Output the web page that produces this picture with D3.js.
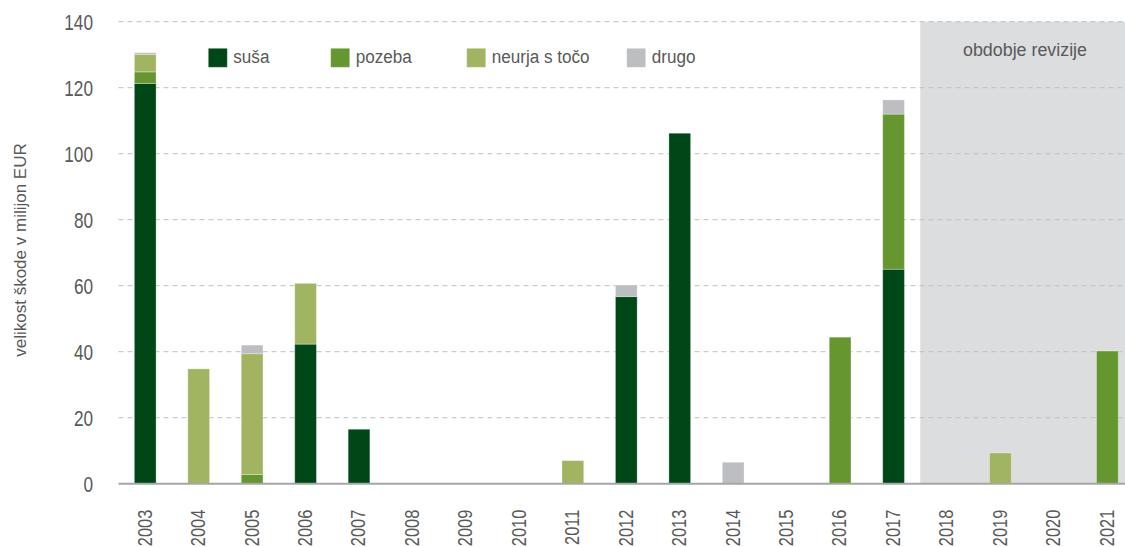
<!DOCTYPE html>
<html>
<head>
<meta charset="utf-8">
<script src="https://cdn.jsdelivr.net/npm/d3@7"></script>
<style>
  html, body { margin: 0; padding: 0; background: #fff; }
  svg { display: block; }
  text { font-family: "Liberation Sans", Arial, sans-serif; }
</style>
</head>
<body>
<svg id="chart" width="1125" height="547"></svg>
<script>
// ---- data ----
const years = ["2003","2004","2005","2006","2007","2008","2009","2010","2011","2012","2013","2014","2015","2016","2017","2018","2019","2020","2021"];
const seriesNames = ["suša", "pozeba", "neurja s točo", "drugo"];
const susa   = [121.3, 0, 0, 42.3, 16.5, 0, 0, 0, 0, 56.7, 106.2, 0, 0, 0, 65.0, 0, 0, 0, 0];
const pozeba = [3.5, 0, 2.8, 0, 0, 0, 0, 0, 0, 0, 0, 0, 0, 44.4, 47.0, 0, 0, 0, 40.2];
const neurja = [5.3, 34.8, 36.6, 18.4, 0, 0, 0, 0, 7.0, 0, 0, 0, 0, 0, 0, 0, 9.3, 0, 0];
const drugo  = [0.5, 0, 2.6, 0, 0, 0, 0, 0, 0, 3.5, 0, 6.5, 0, 0, 4.3, 0, 0, 0, 0];
const yTicks = [0, 20, 40, 60, 80, 100, 120, 140];
const yLabel = "velikost škode v milijon EUR";
const reviewStart = "2018";
const reviewLabel = "obdobje revizije";
const colors = ["#004718", "#65962F", "#A0B462", "#BDBEC2"];

// ---- build ----
const svg = d3.select("#chart");
const W = 1125, H = 547;
const x = d3.scaleBand().domain(years).range([118.5, 1134.1]).paddingInner(0.594).paddingOuter(0.297);
const y = d3.scaleLinear().domain([0, 140]).range([483.7, 21.7]);

const rows = years.map((yr, i) => ({ year: yr, s0: susa[i], s1: pozeba[i], s2: neurja[i], s3: drugo[i] }));
const stacked = d3.stack().keys(["s0","s1","s2","s3"])(rows);

// shaded review region
const rx = x(reviewStart) - (x.step() - x.bandwidth()) / 2;
svg.append("rect")
  .attr("x", rx).attr("y", y(140))
  .attr("width", W - rx).attr("height", y(0) - y(140))
  .attr("fill", "#DCDDDF");

// gridlines
svg.append("g").selectAll("line")
  .data(yTicks.filter(d => d > 0))
  .join("line")
  .attr("x1", x.range()[0]).attr("x2", W)
  .attr("y1", d => y(d)).attr("y2", d => y(d))
  .attr("stroke", "#BFBFBF").attr("stroke-width", 1)
  .attr("stroke-dasharray", "5,4");

// y tick labels
const yAxis = d3.axisLeft(y).tickValues(yTicks).tickSize(0).tickPadding(0);
const gy = svg.append("g").attr("transform", "translate(93,0)").call(yAxis);
gy.select(".domain").remove();
gy.selectAll("text")
  .attr("font-family", "Liberation Sans, Arial, sans-serif")
  .attr("font-size", 21.5).attr("fill", "#595959")
  .attr("x", 0).attr("dy", "0.36em")
  .attr("transform", "scale(0.8,1)");

// bars
svg.append("g").selectAll("g")
  .data(stacked)
  .join("g")
  .attr("fill", (d, i) => colors[i])
  .selectAll("rect")
  .data(d => d.filter(p => p[1] - p[0] > 0))
  .join("rect")
  .attr("x", d => x(d.data.year))
  .attr("width", x.bandwidth())
  .attr("y", d => y(d[1]))
  .attr("height", d => y(d[0]) - y(d[1]))
  .attr("stroke", "#ffffff").attr("stroke-opacity", 0.3).attr("stroke-width", 1);

// x axis
const xAxis = d3.axisBottom(x).tickSize(0).tickPadding(0);
const gx = svg.append("g").attr("transform", `translate(0,${y(0)})`).call(xAxis);
gx.select(".domain").attr("stroke", "#A6A6A6").attr("stroke-width", 2)
  .attr("d", `M${x.range()[0]},0H${W}`);
gx.selectAll("text")
  .attr("font-family", "Liberation Sans, Arial, sans-serif")
  .attr("font-size", 20.5).attr("fill", "#595959")
  .attr("text-anchor", "end")
  .attr("transform", "translate(-1,26) rotate(-90) scale(0.8,1)")
  .attr("x", 0).attr("y", 0).attr("dy", "0.36em");

// y label
svg.append("text")
  .attr("transform", "translate(25.5,250) rotate(-90)")
  .attr("text-anchor", "middle")
  .attr("font-size", 17).attr("fill", "#595959")
  .text(yLabel);

// review label
svg.append("text")
  .attr("transform", "translate(1025,56) scale(0.94,1)")
  .attr("text-anchor", "middle")
  .attr("font-size", 19).attr("fill", "#595959")
  .text(reviewLabel);

// legend
const legendX = [208.3, 330.7, 466.7, 626.7];
const lg = svg.append("g").selectAll("g")
  .data(seriesNames)
  .join("g")
  .attr("transform", (d, i) => `translate(${legendX[i]},48.3)`);
lg.append("rect").attr("width", 19).attr("height", 19)
  .attr("fill", (d, i) => colors[i])
  .attr("stroke", "#ffffff").attr("stroke-opacity", 0.3);
lg.append("text")
  .attr("transform", "translate(25,15) scale(0.9,1)")
  .attr("font-size", 19).attr("fill", "#595959")
  .text(d => d);
</script>
</body>
</html>
